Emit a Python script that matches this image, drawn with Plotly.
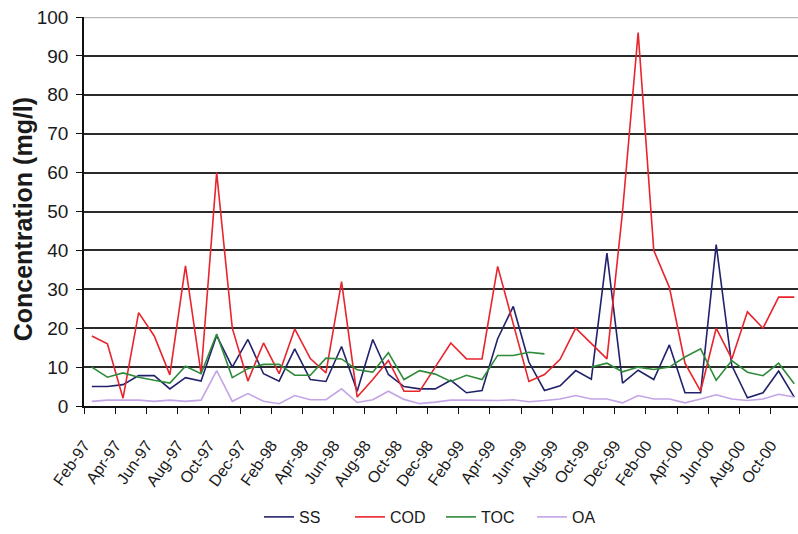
import plotly.graph_objects as go

# Monthly sampling, Feb-97 .. Nov-00
months = [
    "Feb-97", "Mar-97", "Apr-97", "May-97", "Jun-97", "Jul-97", "Aug-97", "Sep-97",
    "Oct-97", "Nov-97", "Dec-97", "Jan-98", "Feb-98", "Mar-98", "Apr-98", "May-98",
    "Jun-98", "Jul-98", "Aug-98", "Sep-98", "Oct-98", "Nov-98", "Dec-98", "Jan-99",
    "Feb-99", "Mar-99", "Apr-99", "May-99", "Jun-99", "Jul-99", "Aug-99", "Sep-99",
    "Oct-99", "Nov-99", "Dec-99", "Jan-00", "Feb-00", "Mar-00", "Apr-00", "May-00",
    "Jun-00", "Jul-00", "Aug-00", "Sep-00", "Oct-00", "Nov-00",
]

ss = [5.0, 5.0, 5.5, 7.8, 7.8, 4.4, 7.3, 6.4, 18.1, 10.0, 17.1, 8.3, 6.4, 14.7, 6.8, 6.3,
      15.3, 3.8, 17.1, 8.1, 5.0, 4.4, 4.4, 6.6, 3.4, 4.0, 17.3, 25.6, 11.3, 4.0, 5.2, 9.1,
      6.9, 39.3, 5.9, 9.2, 6.8, 15.7, 3.4, 3.4, 41.5, 10.4, 2.1, 3.4, 9.0, 2.3]

cod = [18.0, 16.0, 2.0, 24.0, 18.0, 8.0, 36.0, 8.3, 60.0, 20.0, 6.4, 16.2, 8.3, 19.8, 12.2, 8.5,
       32.0, 2.3, 6.8, 11.7, 3.8, 3.8, 10.0, 16.2, 12.1, 12.1, 35.9, 21.0, 6.3, 8.1, 12.0, 20.0,
       16.0, 12.1, 50.0, 96.0, 40.0, 30.5, 11.0, 3.8, 20.0, 12.1, 24.2, 20.0, 28.0, 28.0]

toc = [10.0, 7.4, 8.5, 7.4, 6.6, 5.9, 10.2, 8.3, 18.5, 7.3, 9.6, 10.7, 10.7, 7.9, 7.9, 12.3,
       12.1, 9.3, 8.7, 13.7, 6.8, 9.1, 8.2, 6.3, 7.9, 6.8, 13.0, 13.0, 13.8, 13.4, None, None,
       10.0, 11.0, 8.8, 10.0, 9.4, 10.0, 12.6, 14.7, 6.6, 11.7, 8.7, 7.8, 11.0, 5.7]

oa = [1.2, 1.5, 1.5, 1.5, 1.2, 1.5, 1.2, 1.5, 9.1, 1.2, 3.2, 1.2, 0.6, 2.7, 1.6, 1.6,
      4.4, 0.9, 1.6, 3.8, 1.7, 0.6, 1.0, 1.5, 1.5, 1.4, 1.4, 1.6, 1.1, 1.4, 1.8, 2.7,
      1.8, 1.8, 0.8, 2.7, 1.8, 1.8, 0.8, 1.8, 2.9, 1.8, 1.4, 1.8, 3.0, 2.3]

y_ticks = [0, 10, 20, 30, 40, 50, 60, 70, 80, 90, 100]

x = list(range(len(months)))
# labels every second month, placed on the category boundary
tick_pos = [i - 0.5 for i in x[::2]]
tick_txt = months[::2]

series = [
    ("SS", ss, "#22226c"),
    ("COD", cod, "#e8242c"),
    ("TOC", toc, "#2f8a3a"),
    ("OA", oa, "#c3a4e6"),
]

fig = go.Figure()
for name, vals, color in series:
    fig.add_trace(go.Scatter(
        x=x, y=vals, name=name, mode="lines",
        line=dict(color=color, width=1.6),
        text=months, hovertemplate="%{text}: %{y}<extra>" + name + "</extra>",
        connectgaps=False,
    ))

font_family = "Liberation Sans, Arial, sans-serif"

fig.update_layout(
    width=798, height=534,
    margin=dict(l=84, r=0, t=17, b=128),
    paper_bgcolor="white", plot_bgcolor="white",
    font=dict(family=font_family, color="#1a1a1a"),
    showlegend=True,
    legend=dict(
        orientation="h", x=0.5, xanchor="center", y=-0.287, yanchor="middle",
        font=dict(size=16, family=font_family, color="#1a1a1a"),
        entrywidth=46, itemwidth=30, bgcolor="rgba(0,0,0,0)",
    ),
    xaxis=dict(
        range=[-0.5, 45.24],
        tickmode="array", tickvals=tick_pos, ticktext=tick_txt,
        tickangle=-55, tickfont=dict(size=16),
        ticks="outside", ticklen=6, tickcolor="#111", tickwidth=1,
        ticklabelstandoff=16,
        showgrid=False, zeroline=False,
        showline=True, linecolor="#111", linewidth=1.5,
    ),
    yaxis=dict(
        range=[0, 100],
        tickmode="array", tickvals=y_ticks,
        tickfont=dict(size=19),
        ticks="outside", ticklen=6, tickcolor="#111", tickwidth=1,
        ticklabelstandoff=4,
        showgrid=True, gridcolor="#2b2b2b", gridwidth=2,
        zeroline=False,
        showline=True, linecolor="#111", linewidth=1.5,
    ),
    annotations=[dict(
        text="<b>Concentration (mg/l)</b>", textangle=-90,
        xref="paper", yref="paper", x=-0.0854, y=0.48,
        xanchor="center", yanchor="middle", showarrow=False,
        font=dict(size=25, family=font_family, color="#1a1a1a"),
    )],
)

# light top border at 100
fig.add_shape(type="line", xref="paper", yref="y", x0=0, x1=1, y0=100, y1=100,
              line=dict(color="#b8b8b8", width=2.5), layer="above")

fig.write_html("out.html")
